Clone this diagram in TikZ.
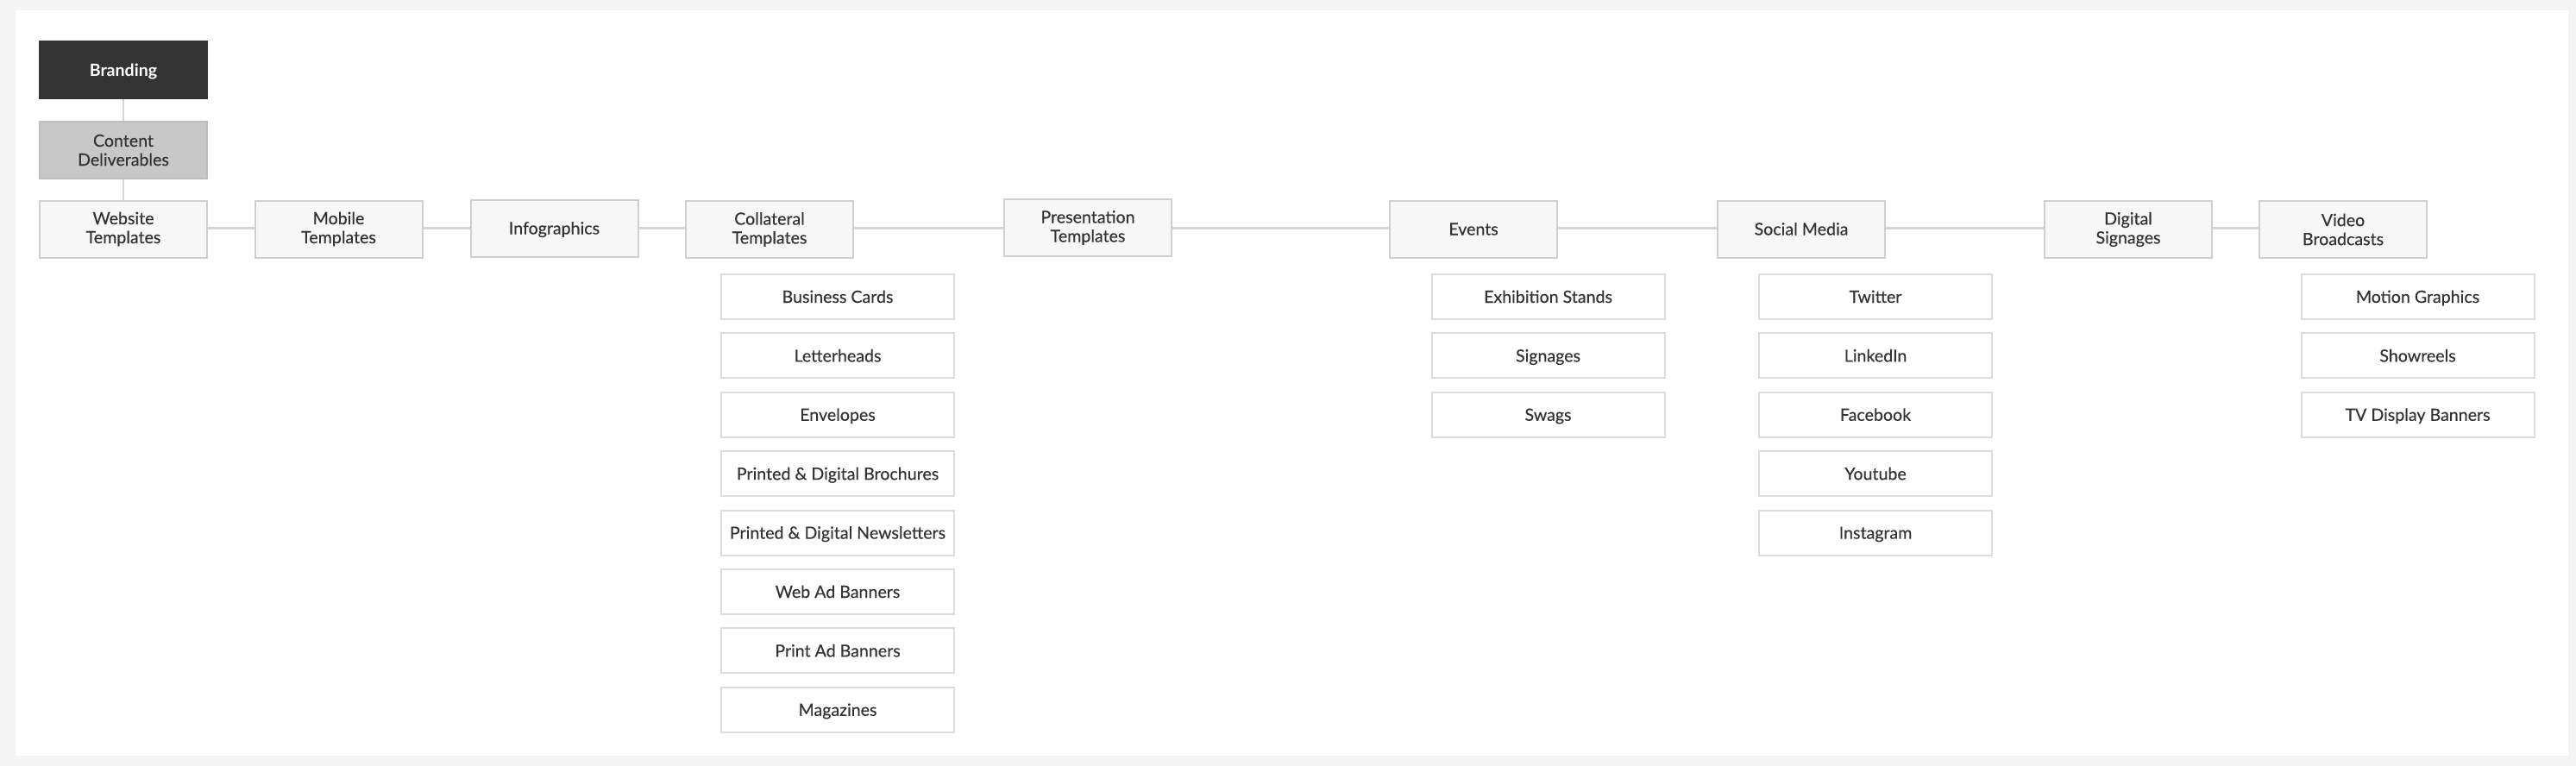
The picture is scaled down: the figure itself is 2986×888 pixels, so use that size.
\documentclass[tikz,border=0pt]{standalone}
\usepackage{fontspec}
\setmainfont{Lato}
\newfontfamily\medfont{Lato}[FakeBold=0.35]
\definecolor{outerbg}{HTML}{F4F4F4}
\definecolor{mainfill}{HTML}{F7F7F7}
\definecolor{mainborder}{HTML}{CFCFCF}
\definecolor{childborder}{HTML}{DCDCDC}
\definecolor{linecol}{HTML}{D6D6D6}
\definecolor{txt}{HTML}{333333}
\definecolor{brandfill}{HTML}{333333}
\definecolor{contentfill}{HTML}{C8C8C8}
\definecolor{contentborder}{HTML}{BDBDBD}
\tikzset{
  lbl/.style={font=\medfont\fontsize{9.8}{11}\selectfont, text=txt, align=center, inner sep=0pt},
  one/.style={text height=7pt, text depth=0pt},
  mainbox/.style={lbl, draw=mainborder, fill=mainfill, line width=1pt, minimum width=97pt, minimum height=33pt},
  childbox/.style={lbl, one, draw=childborder, fill=white, line width=1pt, minimum width=135pt, minimum height=26pt},
  brandbox/.style={mainbox, one, fill=brandfill, draw=brandfill, text=white, font=\fontsize{9.8}{11}\selectfont\bfseries},
  contentbox/.style={mainbox, fill=contentfill, draw=contentborder},
  conn/.style={draw=linecol, line width=1.2pt}
}
\begin{document}
\begin{tikzpicture}[x=0.5pt, y=-0.5pt]
\useasboundingbox (0,0) rectangle (2986,888);
\fill[outerbg] (0,0) rectangle (2986,888);
\fill[white] (18,12) rectangle (2977,876);

\node[brandbox] (brand) at (143,81.5) {Branding};
\node[contentbox] (content) at (143,174) {Content\\Deliverables};

\node[mainbox] (web) at (143,265.5) {Website\\Templates};
\node[mainbox] (mob) at (392.5,265.5) {Mobile\\Templates};
\node[mainbox, one] (info) at (642.5,264.5) {Infographics};
\node[mainbox] (coll) at (892,266) {Collateral\\Templates};
\node[mainbox] (pres) at (1261,264) {Presentation\\Templates};
\node[mainbox, one] (events) at (1708,265.5) {Events};
\node[mainbox, one] (social) at (2088,265.5) {Social Media};
\node[mainbox] (digital) at (2467,266) {Digital\\Signages};
\node[mainbox] (video) at (2716,266) {Video\\Broadcasts};

% collateral children
\node[childbox] (c1) at (971,344) {Business Cards};
\node[childbox] (c2) at (971,412.4) {Letterheads};
\node[childbox] (c3) at (971,480.8) {Envelopes};
\node[childbox] (c4) at (971,549.2) {Printed \& Digital Brochures};
\node[childbox] (c5) at (971,617.6) {Printed \& Digital Newsletters};
\node[childbox] (c6) at (971,686) {Web Ad Banners};
\node[childbox] (c7) at (971,754.4) {Print Ad Banners};
\node[childbox] (c8) at (971,822.8) {Magazines};

% events children
\node[childbox] (e1) at (1794.5,344) {Exhibition Stands};
\node[childbox] (e2) at (1794.5,412.4) {Signages};
\node[childbox] (e3) at (1794.5,480.8) {Swags};

% social children
\node[childbox] (s1) at (2174,344) {Twitter};
\node[childbox] (s2) at (2174,412.4) {LinkedIn};
\node[childbox] (s3) at (2174,480.8) {Facebook};
\node[childbox] (s4) at (2174,549.2) {Youtube};
\node[childbox] (s5) at (2174,617.6) {Instagram};

% video children
\node[childbox] (v1) at (2802.5,344) {Motion Graphics};
\node[childbox] (v2) at (2802.5,412.4) {Showreels};
\node[childbox] (v3) at (2802.5,480.8) {TV Display Banners};

% connectors
\draw[conn] (brand.south) -- (content.north);
\draw[conn] (content.south) -- (web.north);
\draw[conn] (web.east |- info.east) -- (info.east -| mob.west);
\draw[conn] (mob.east |- info.east) -- (info.west);
\draw[conn] (info.east) -- (info.east -| coll.west);
\draw[conn] (coll.east |- info.east) -- (info.east -| pres.west);
\draw[conn] (pres.east |- info.east) -- (info.east -| events.west);
\draw[conn] (events.east |- info.east) -- (info.east -| social.west);
\draw[conn] (social.east |- info.east) -- (info.east -| digital.west);
\draw[conn] (digital.east |- info.east) -- (info.east -| video.west);
\end{tikzpicture}
\end{document}
